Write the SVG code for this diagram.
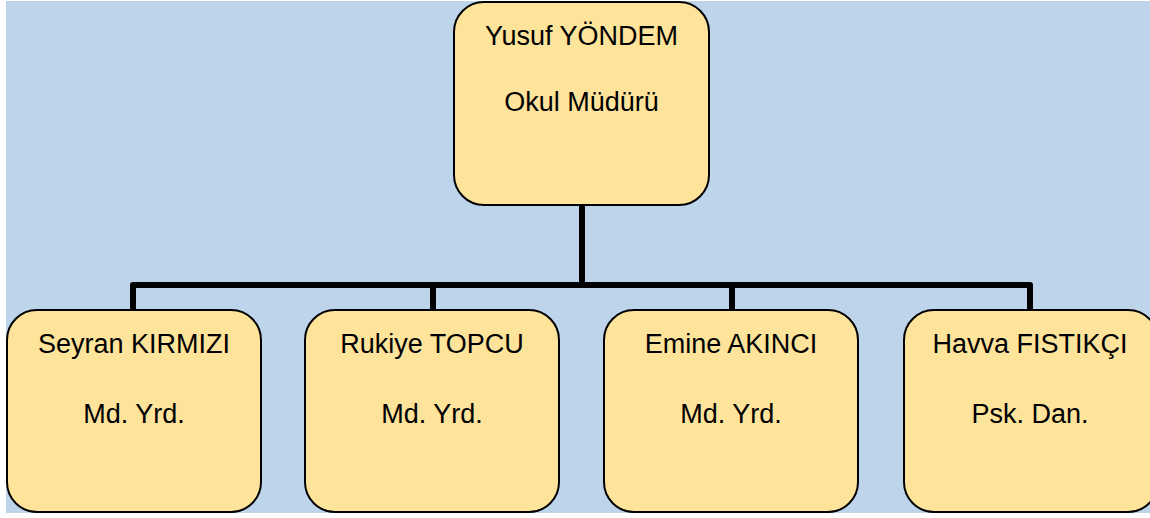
<svg xmlns="http://www.w3.org/2000/svg" width="1150" height="518" viewBox="0 0 1150 518">
<style>
.node{fill:#FEE39B;stroke:#000;stroke-width:2}
.t{font-family:"Liberation Sans",Arial,sans-serif;font-size:27px;fill:#000;text-anchor:middle}
.c{fill:none;stroke:#000;stroke-width:6;stroke-linejoin:round}
</style>
<rect x="0" y="0" width="1150" height="518" fill="#fff"/>
<rect x="6" y="1" width="1144" height="512" fill="#BDD4EB"/>
<g id="connectors">
<path class="c" d="M582 206V285M133 309V285H1030V309M433 285V309M732 285V309"/>
</g>
<g id="n0">
<rect class="node" x="454" y="2" width="255" height="203" rx="30"/>
<text class="t" x="581.5" y="45">Yusuf YÖNDEM</text>
<text class="t" x="581.5" y="111">Okul Müdürü</text>
</g>
<g id="n1">
<rect class="node" x="7" y="310" width="254" height="202" rx="30"/>
<text class="t" x="134" y="353">Seyran KIRMIZI</text>
<text class="t" x="134" y="423">Md. Yrd.</text>
</g>
<g id="n2">
<rect class="node" x="305" y="310" width="254" height="202" rx="30"/>
<text class="t" x="432" y="353">Rukiye TOPCU</text>
<text class="t" x="432" y="423">Md. Yrd.</text>
</g>
<g id="n3">
<rect class="node" x="604" y="310" width="254" height="202" rx="30"/>
<text class="t" x="731" y="353">Emine AKINCI</text>
<text class="t" x="731" y="423">Md. Yrd.</text>
</g>
<g id="n4">
<rect class="node" x="904" y="310" width="254" height="202" rx="30"/>
<text class="t" x="1030" y="353">Havva FISTIKÇI</text>
<text class="t" x="1030" y="423">Psk. Dan.</text>
</g>
</svg>
